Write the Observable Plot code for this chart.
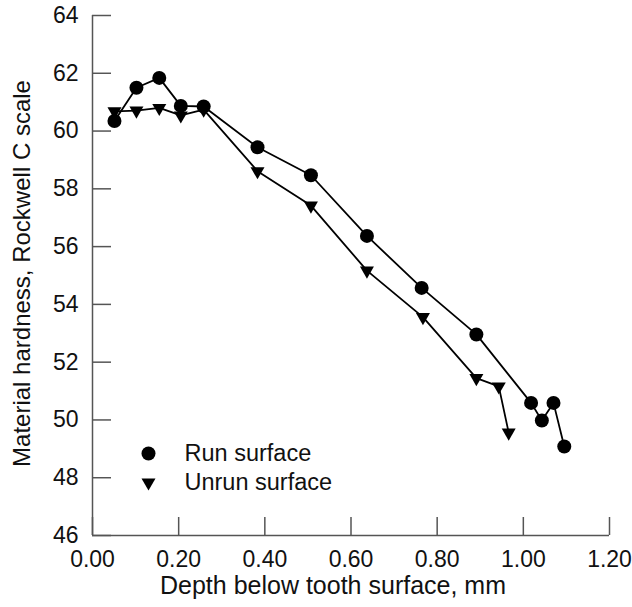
<!DOCTYPE html>
<html>
<head>
<meta charset="utf-8">
<script src="https://cdn.jsdelivr.net/npm/d3@7"></script>
<script src="https://cdn.jsdelivr.net/npm/@observablehq/plot@0.6"></script>
<style>
  html, body { margin: 0; padding: 0; background: #fff; }
  #chart svg { font-family: "Liberation Sans", Arial, sans-serif; }
</style>
</head>
<body>
<div id="chart"></div>
<script>
// Data
const runDepth   = [0.051, 0.102, 0.155, 0.205, 0.258, 0.383, 0.507, 0.637, 0.764, 0.891, 1.018, 1.043, 1.070, 1.095];
const runHard    = [60.35, 61.50, 61.84, 60.87, 60.85, 59.44, 58.47, 56.37, 54.57, 52.96, 50.59, 49.98, 50.59, 49.08];
const unrunDepth = [0.051, 0.102, 0.155, 0.205, 0.258, 0.383, 0.507, 0.637, 0.767, 0.891, 0.943, 0.966];
const unrunHard  = [60.68, 60.71, 60.80, 60.54, 60.74, 58.61, 57.42, 55.17, 53.56, 51.45, 51.16, 49.56];

const seriesNames = ["Run surface", "Unrun surface"];
const xTicks = [0, 0.2, 0.4, 0.6, 0.8, 1.0, 1.2];
const yTicks = [46, 48, 50, 52, 54, 56, 58, 60, 62, 64];
const xLabel = "Depth below tooth surface, mm";
const yLabel = "Material hardness, Rockwell C scale";

const run = runDepth.map((d, i) => ({depth: d, hard: runHard[i]}));
const unrun = unrunDepth.map((d, i) => ({depth: d, hard: unrunHard[i]}));

const W = 632, H = 607;
const mL = 92, mR = 23, mT = 15, mB = 72;
const innerW = W - mL - mR, innerH = H - mT - mB;
const axisColor = "#555";
const ink = "#111";

const chart = Plot.plot({
  width: W,
  height: H,
  marginLeft: mL,
  marginRight: mR,
  marginTop: mT,
  marginBottom: mB,
  style: {fontSize: "23px", color: ink, background: "#fff"},
  x: {domain: [0, 1.2], ticks: xTicks, tickFormat: d3.format(".2f")},
  y: {domain: [46, 64], ticks: yTicks},
  marks: [
    // tick labels only
    Plot.axisX({ticks: xTicks, tickFormat: d3.format(".2f"), tickSize: 0, tickPadding: 15, label: null, fontSize: 23}),
    Plot.axisY({ticks: yTicks, tickSize: 0, tickPadding: 14, label: null, fontSize: 23}),
    // inward ticks
    Plot.tickX(xTicks, {x: d => d, insetTop: innerH - 18, stroke: axisColor, strokeWidth: 1.5}),
    Plot.tickY(yTicks, {y: d => d, insetRight: innerW - 19, stroke: axisColor, strokeWidth: 1.5}),
    // axis lines
    Plot.ruleX([0], {stroke: axisColor, strokeWidth: 1.5}),
    Plot.ruleY([46], {stroke: axisColor, strokeWidth: 1.5}),
    // series
    Plot.line(run, {x: "depth", y: "hard", stroke: "#000", strokeWidth: 1.8}),
    Plot.line(unrun, {x: "depth", y: "hard", stroke: "#000", strokeWidth: 1.8}),
    Plot.dot(run, {x: "depth", y: "hard", symbol: "circle", r: 7, fill: "#000", stroke: "none"}),
    Plot.dot(unrun, {x: "depth", y: "hard", symbol: "triangle", rotate: 180, r: 5.2, fill: "#000", stroke: "none"}),
    // legend
    Plot.dot([seriesNames[0]], {frameAnchor: "top-left", dx: 56, dy: 438, symbol: "circle", r: 7, fill: "#000"}),
    Plot.dot([seriesNames[1]], {frameAnchor: "top-left", dx: 56, dy: 467, symbol: "triangle", rotate: 180, r: 5.2, fill: "#000"}),
    Plot.text([seriesNames[0]], {text: d => d, frameAnchor: "top-left", dx: 92, dy: 438, textAnchor: "start", lineAnchor: "middle", fontSize: 23.5, fill: ink}),
    Plot.text([seriesNames[1]], {text: d => d, frameAnchor: "top-left", dx: 92, dy: 467, textAnchor: "start", lineAnchor: "middle", fontSize: 23.5, fill: ink}),
    // axis titles
    Plot.text([xLabel], {text: d => d, frameAnchor: "bottom", textAnchor: "middle", dx: -18, dy: 58, lineAnchor: "bottom", fontSize: 25, fill: ink}),
    Plot.text([yLabel], {text: d => d, frameAnchor: "left", textAnchor: "middle", rotate: -90, dx: -70, dy: -2, lineAnchor: "middle", fontSize: 24, fill: ink})
  ]
});
document.getElementById("chart").appendChild(chart);
</script>
</body>
</html>
